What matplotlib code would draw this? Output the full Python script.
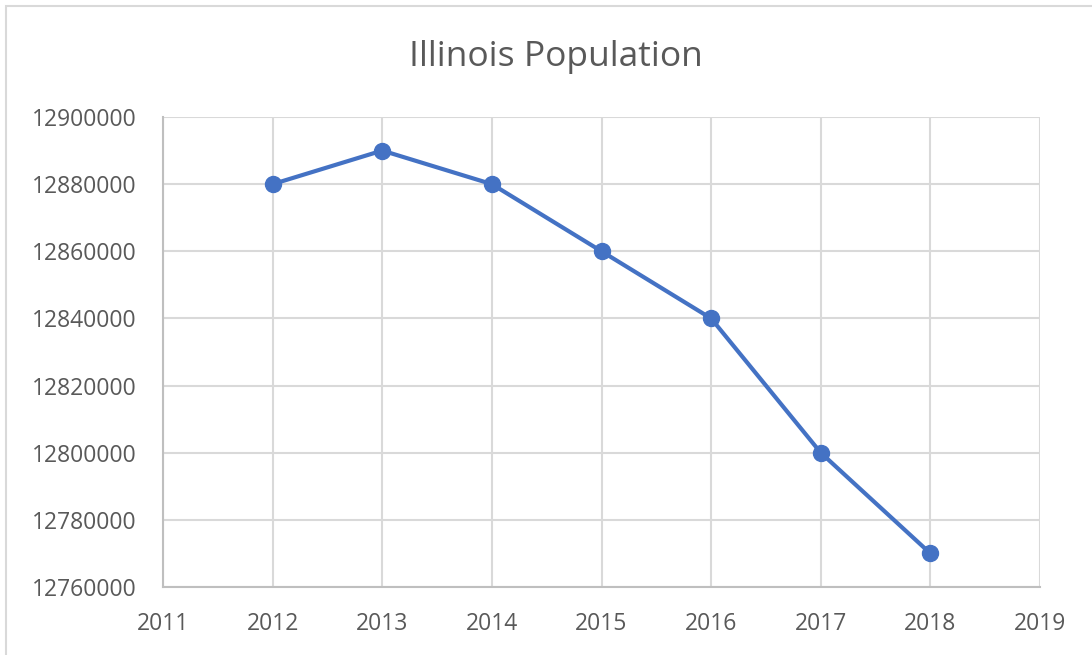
import matplotlib
matplotlib.use("Agg")
import matplotlib.pyplot as plt
from matplotlib.patches import Rectangle

years = [2012, 2013, 2014, 2015, 2016, 2017, 2018]
population = [12880000, 12890000, 12880000, 12860000, 12840000, 12800000, 12770000]
x_ticks = [2011, 2012, 2013, 2014, 2015, 2016, 2017, 2018, 2019]
y_ticks = [12760000, 12780000, 12800000, 12820000, 12840000, 12860000, 12880000, 12900000]
title = "Illinois Population"

plt.rcParams['font.family'] = ['Open Sans', 'DejaVu Sans']
text_color = '#595959'

fig = plt.figure(figsize=(10.92, 6.55), dpi=100)
ax = fig.add_axes([163/1092, 1-587/655, (1040-163)/1092, (587-117)/655])

ax.plot(years, population, color='#4472C4', lw=3.0, marker='o', markersize=11.5,
        solid_capstyle='round', zorder=3)

ax.set_xlim(2011, 2019)
ax.set_ylim(12760000, 12900000)
ax.set_xticks(x_ticks)
ax.set_xticklabels([str(v) for v in x_ticks])
ax.set_yticks(y_ticks)
ax.set_yticklabels([str(v) for v in y_ticks])
ax.grid(True, color='#d9d9d9', lw=1.5, zorder=0)
ax.set_axisbelow(True)
for s in ['top', 'right']:
    ax.spines[s].set_visible(False)
for s in ['left', 'bottom']:
    ax.spines[s].set_color('#bfbfbf')
    ax.spines[s].set_linewidth(1.5)
ax.tick_params(axis='both', length=0, labelsize=16.5, colors=text_color)
ax.tick_params(axis='y', pad=19)
ax.tick_params(axis='x', pad=18)

fig.text(556/1092, 1-57/655, title, ha='center', va='center', fontsize=25.5, color=text_color)

fig.add_artist(Rectangle((6/1092, -0.1), 1.2, 1.1 - 6/655, transform=fig.transFigure,
                         fill=False, edgecolor='#d9d9d9', lw=1.5))

fig.savefig('out.png', dpi=100)
